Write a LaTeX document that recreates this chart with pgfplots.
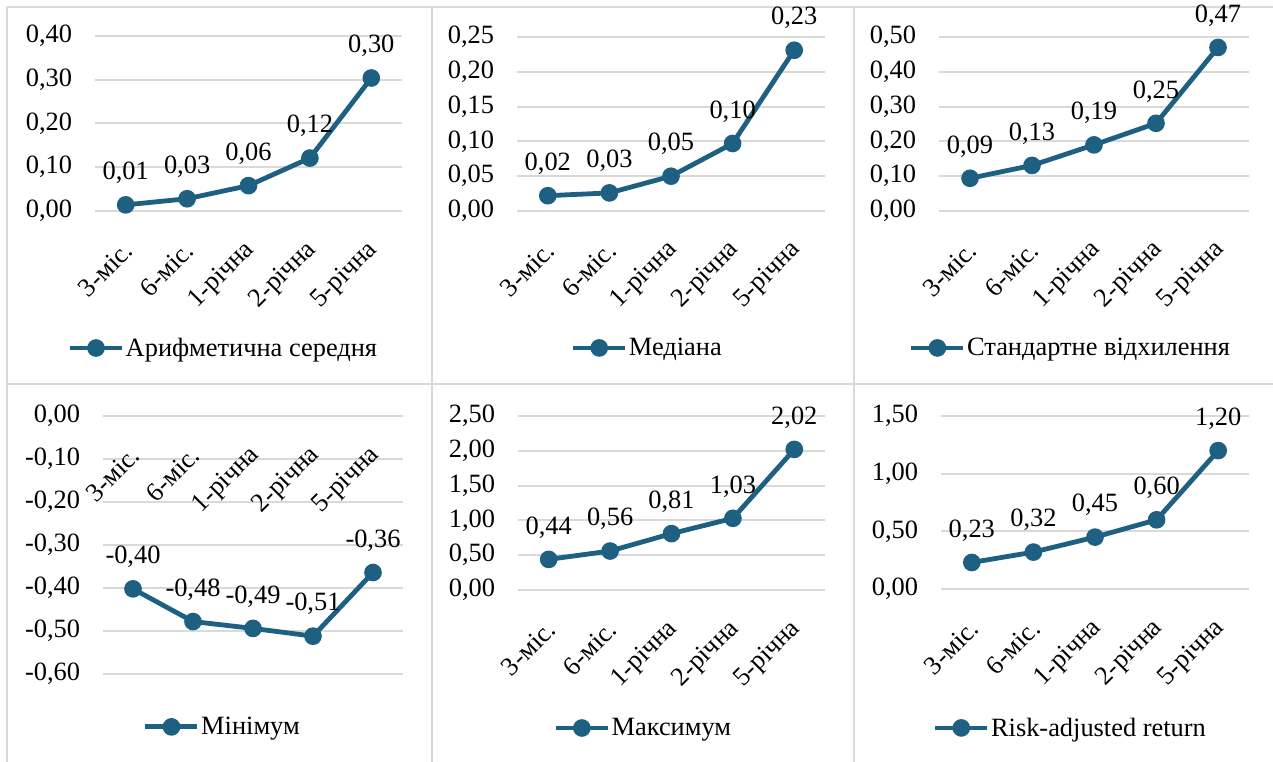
\documentclass[border=0pt]{standalone}
\usepackage{fontspec}
\setmainfont{Liberation Serif}
\usepackage{pgfplots}
\pgfplotsset{compat=1.18}
\definecolor{lineblue}{RGB}{29,96,130}
\definecolor{gridgray}{RGB}{217,217,217}
\newcommand{\chartfont}{\fontsize{19.8}{23}\selectfont}
\pgfplotsset{
  /pgf/number format/.cd, use comma, fixed, fixed zerofill, precision=2, assume math mode=true,
  /pgfplots/.cd,
  panel/.style={
    scale only axis,
    clip=false,
    xmin=-0.5, xmax=4.5,
    xtick={0,1,2,3,4},
    xticklabels={3-міс.,6-міс.,1-річна,2-річна,5-річна},
    axis y line*=left,
    axis line style={draw=none},
    tick style={draw=none},
    major tick length=0pt,
    ymajorgrids,
    major grid style={draw=gridgray, line width=1.5pt},
    yticklabel style={font=\chartfont, anchor=east, inner sep=0pt, xshift=-17pt},
    xticklabel style={font=\chartfont, xshift=2pt, yshift=-26.5pt, rotate=45, anchor=east, inner sep=0pt},
    nodes near coords,
    every node near coord/.append style={font=\chartfont, text=black, anchor=center, yshift=24pt},
    legend style={draw=none, fill=none, font=\chartfont, anchor=center, inner sep=0pt,
      nodes={inner sep=1pt}},
    legend image code/.code={\draw[mark repeat=2, mark phase=2] plot coordinates {(0pt,0pt) (19.5pt,0pt) (39pt,0pt)};},
  },
  ser/.style={color=lineblue, line width=3.6pt, mark=*, mark size=4.8pt, mark options={solid}},
}
\begin{document}
\begin{tikzpicture}
\useasboundingbox (0,0) rectangle (954.75pt,-571.5pt);
% panel borders
\draw[gridgray, line width=1.5pt] (5.25pt,-5.25pt) -- (954.75pt,-5.25pt);
\draw[gridgray, line width=1.5pt] (5.25pt,-5.25pt) -- (5.25pt,-571.5pt);
\draw[gridgray, line width=1.5pt] (324pt,-5.25pt) -- (324pt,-571.5pt);
\draw[gridgray, line width=1.5pt] (640.5pt,-5.25pt) -- (640.5pt,-571.5pt);
\draw[gridgray, line width=1.5pt] (5.25pt,-288pt) -- (954.75pt,-288pt);

% Panel 1
\begin{axis}[panel, at={(71.25pt,-158.25pt)}, anchor=south west,
  width=230.25pt, height=131.25pt, axis x line*=bottom,
  ymin=0, ymax=0.4, ytick={0,0.1,0.2,0.3,0.4},
  legend style={at={(0.417,-0.783)}}]
\addplot[ser] coordinates {(0,0.014) (1,0.028) (2,0.058) (3,0.121) (4,0.304)};
\addlegendentry{Арифметична середня}
\end{axis}

% Panel 2
\begin{axis}[panel, at={(387.75pt,-158.25pt)}, anchor=south west,
  width=231pt, height=130.5pt, axis x line*=bottom,
  ymin=0, ymax=0.25, ytick={0,0.05,0.1,0.15,0.2,0.25},
  legend style={at={(0.422,-0.787)}}]
\addplot[ser] coordinates {(0,0.022) (1,0.026) (2,0.050) (3,0.097) (4,0.231)};
\addlegendentry{Медіана}
\end{axis}

% Panel 3
\begin{axis}[panel, at={(704.25pt,-158.25pt)}, anchor=south west,
  width=232.5pt, height=130.5pt, axis x line*=bottom,
  ymin=0, ymax=0.5, ytick={0,0.1,0.2,0.3,0.4,0.5},
  legend style={at={(0.423,-0.787)}}]
\addplot[ser] coordinates {(0,0.094) (1,0.131) (2,0.190) (3,0.252) (4,0.470)};
\addlegendentry{Стандартне відхилення}
\end{axis}

% Panel 4
\begin{axis}[panel, at={(77.25pt,-505.5pt)}, anchor=south west,
  width=225pt, height=193.5pt, axis x line*=top,
  ymin=-0.6, ymax=0, ytick={-0.6,-0.5,-0.4,-0.3,-0.2,-0.1,0},
  xticklabel pos=upper,
  legend style={at={(0.397,-0.205)}}]
\addplot[ser] coordinates {(0,-0.402) (1,-0.478) (2,-0.494) (3,-0.512) (4,-0.364)};
\addlegendentry{Мінімум}
\end{axis}

% Panel 5
\begin{axis}[panel, at={(388.5pt,-442.5pt)}, anchor=south west,
  width=230.25pt, height=130.5pt, axis x line*=bottom,
  ymin=0, ymax=2.5, ytick={0,0.5,1,1.5,2,2.5},
  legend style={at={(0.407,-0.793)}}]
\addplot[ser] coordinates {(0,0.44) (1,0.56) (2,0.81) (3,1.03) (4,2.02)};
\addlegendentry{Максимум}
\end{axis}

% Panel 6
\begin{axis}[panel, at={(705.75pt,-441.75pt)}, anchor=south west,
  width=231pt, height=129.75pt, axis x line*=bottom,
  ymin=0, ymax=1.5, ytick={0,0.5,1,1.5},
  legend style={at={(0.419,-0.803)}}]
\addplot[ser] coordinates {(0,0.23) (1,0.32) (2,0.45) (3,0.60) (4,1.20)};
\addlegendentry{Risk-adjusted return}
\end{axis}
\end{tikzpicture}
\end{document}
